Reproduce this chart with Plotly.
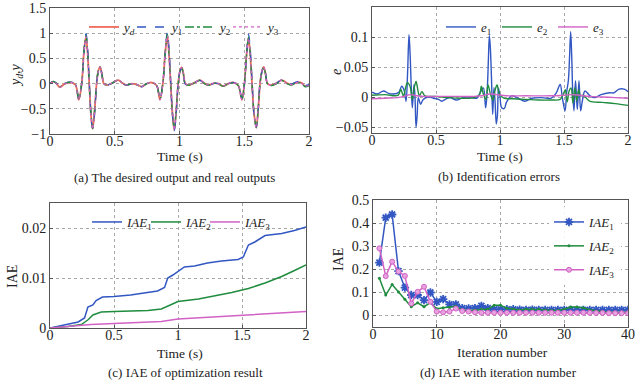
import plotly.graph_objects as go

# ---------------- (a) desired output and real outputs ----------------
t_a = [0.000, 0.025, 0.050, 0.075, 0.110, 0.140, 0.170, 0.198,
       0.222, 0.245, 0.262, 0.278, 0.290, 0.303, 0.316, 0.329, 0.345, 0.360, 0.373, 0.386, 0.400, 0.416,
       0.440, 0.480, 0.527, 0.560, 0.590, 0.630, 0.670, 0.707, 0.740, 0.770, 0.800, 0.826,
       0.849, 0.872, 0.890, 0.906, 0.918, 0.932, 0.946, 0.960, 0.975, 0.990, 1.004, 1.017, 1.030, 1.045,
       1.070, 1.110, 1.158, 1.190, 1.220, 1.270, 1.300, 1.335, 1.370, 1.400, 1.430, 1.456,
       1.482, 1.502, 1.518, 1.533, 1.546, 1.560, 1.575, 1.593, 1.608, 1.622, 1.637, 1.650, 1.664, 1.680,
       1.710, 1.750, 1.790, 1.830, 1.860, 1.890, 1.920, 1.945, 1.970, 2.000]
yd = [0.00, 0.04, 0.00, -0.07, -0.01, 0.02, 0.02, -0.03,
      -0.32, 0.00, 0.62, 0.93, 0.62, 0.00, -0.60, -0.90, -0.52, 0.00, 0.25, 0.33, 0.20, 0.00,
      -0.03, 0.01, 0.07, 0.01, -0.03, 0.00, -0.02, -0.06, -0.01, 0.02, 0.01, -0.05,
      -0.32, 0.02, 0.62, 0.95, 0.62, 0.00, -0.60, -0.92, -0.52, 0.00, 0.25, 0.32, 0.20, 0.00,
      -0.03, 0.01, 0.07, 0.01, -0.03, 0.01, 0.00, -0.05, -0.01, 0.02, 0.01, -0.05,
      -0.32, 0.02, 0.58, 0.90, 0.58, 0.00, -0.58, -0.88, -0.50, 0.00, 0.25, 0.33, 0.20, 0.00,
      -0.03, 0.01, 0.07, 0.01, -0.02, 0.01, 0.03, 0.01, -0.05, -0.03]
y1 = [0.01, 0.045, 0.005, -0.06, -0.003, 0.026, 0.025, -0.022,
      -0.30, 0.01, 0.61, 0.99, 0.72, 0.02, -0.62, -0.89, -0.57, 0.00, 0.24, 0.32, 0.196, 0.00,
      -0.03, 0.008, 0.066, 0.005, -0.033, -0.002, -0.025, -0.062, -0.01, 0.019, 0.008, -0.048,
      -0.31, 0.03, 0.61, 1.02, 0.72, 0.035, -0.63, -0.93, -0.565, 0.015, 0.25, 0.30, 0.18, -0.009,
      -0.03, 0.011, 0.064, 0.005, -0.033, 0.008, -0.001, -0.051, -0.011, 0.018, 0.015, -0.04,
      -0.30, 0.00, 0.59, 0.98, 0.68, 0.07, -0.60, -0.86, -0.52, 0.025, 0.24, 0.34, 0.21, 0.003,
      -0.03, 0.01, 0.074, 0.017, -0.013, 0.017, 0.043, 0.023, -0.037, -0.021]
y2 = [0.003, 0.044, 0.004, -0.066, -0.006, 0.024, 0.023, -0.027,
      -0.31, 0.01, 0.64, 0.95, 0.63, -0.004, -0.58, -0.89, -0.51, 0.002, 0.259, 0.332, 0.202, 0.001,
      -0.029, 0.011, 0.07, 0.009, -0.031, -0.001, -0.022, -0.062, -0.011, 0.02, 0.011, -0.046,
      -0.305, 0.015, 0.635, 0.97, 0.625, 0.005, -0.595, -0.90, -0.515, 0.005, 0.248, 0.316, 0.196, -0.003,
      -0.033, 0.007, 0.066, 0.006, -0.034, 0.005, -0.005, -0.055, -0.015, 0.015, 0.009, -0.046,
      -0.31, 0.03, 0.57, 0.92, 0.595, -0.01, -0.565, -0.87, -0.49, 0.006, 0.243, 0.32, 0.19, -0.007,
      -0.039, 0.001, 0.061, 0.001, -0.031, 0.001, 0.019, -0.001, -0.062, -0.044]
y3 = [-0.003, 0.037, -0.002, -0.072, -0.012, 0.019, 0.02, -0.031,
      -0.321, 0.002, 0.62, 0.935, 0.626, 0.004, -0.60, -0.90, -0.52, 0.001, 0.25, 0.33, 0.20, 0.001,
      -0.029, 0.011, 0.071, 0.011, -0.029, 0.001, -0.019, -0.059, -0.009, 0.021, 0.011, -0.048,
      -0.318, 0.022, 0.622, 0.952, 0.625, 0.005, -0.596, -0.918, -0.517, 0.003, 0.252, 0.322, 0.202, 0.002,
      -0.028, 0.012, 0.072, 0.012, -0.028, 0.012, 0.002, -0.048, -0.008, 0.022, 0.012, -0.047,
      -0.317, 0.023, 0.583, 0.902, 0.583, 0.004, -0.576, -0.877, -0.496, 0.003, 0.252, 0.331, 0.199, -0.001,
      -0.032, 0.009, 0.068, 0.008, -0.022, 0.008, 0.028, 0.008, -0.052, -0.032]

# ---------------- (b) identification errors ----------------
t_e1 = [0.00, 0.04, 0.09, 0.13, 0.17, 0.21, 0.232, 0.253, 0.266, 0.278, 0.289, 0.298, 0.306, 0.315,
        0.328, 0.336, 0.344, 0.353, 0.362, 0.380, 0.400, 0.440, 0.480, 0.520, 0.544, 0.580, 0.610,
        0.660, 0.700, 0.740, 0.780, 0.820, 0.844, 0.870, 0.888, 0.900, 0.909, 0.917, 0.925, 0.933,
        0.943, 0.953, 0.962, 0.971, 0.980, 0.988, 1.000, 1.013, 1.034, 1.050, 1.090, 1.140, 1.195,
        1.250, 1.326, 1.400, 1.440, 1.470, 1.487, 1.508, 1.522, 1.534, 1.544, 1.552, 1.560, 1.568,
        1.578, 1.590, 1.604, 1.617, 1.630, 1.643, 1.664, 1.703, 1.740, 1.790, 1.857, 1.890, 1.930,
        1.970, 2.000]
e1 = [0.008, 0.005, 0.010, 0.006, 0.005, 0.008, 0.018, 0.010, -0.007, 0.040, 0.104, 0.070, 0.020, -0.018,
      0.021, 0.000, -0.050, -0.030, -0.001, -0.012, -0.004, 0.000, -0.002, -0.004, -0.007, -0.003, -0.001,
      -0.005, -0.002, 0.000, -0.001, -0.002, 0.007, 0.015, -0.018, 0.010, 0.060, 0.102, 0.080, 0.035,
      -0.029, 0.016, -0.010, -0.045, -0.030, 0.015, 0.000, -0.018, -0.019, -0.009, 0.002, -0.002, -0.007,
      -0.002, -0.001, -0.002, 0.007, 0.021, -0.001, -0.023, 0.010, 0.027, 0.070, 0.109, 0.070, 0.010,
      -0.023, 0.027, -0.021, 0.027, -0.023, -0.007, 0.010, 0.002, -0.001, 0.004, 0.007, 0.007, 0.013,
      0.013, 0.009]
t_e2 = [0.00, 0.10, 0.205, 0.224, 0.245, 0.262, 0.276, 0.297, 0.315, 0.330, 0.344, 0.358, 0.370, 0.390,
        0.414, 0.50, 0.60, 0.70, 0.80, 0.840, 0.854, 0.870, 0.890, 0.906, 0.925, 0.945, 0.962, 0.977,
        0.995, 1.03, 1.10, 1.20, 1.30, 1.40, 1.47, 1.495, 1.51, 1.525, 1.540, 1.555, 1.570, 1.585,
        1.600, 1.615, 1.630, 1.650, 1.70, 1.80, 1.90, 2.00]
e2 = [0.003, 0.004, 0.003, 0.013, 0.002, 0.015, 0.024, 0.018, -0.004, 0.015, 0.026, 0.012, 0.002, 0.009,
      0.002, 0.001, -0.001, -0.002, -0.001, 0.004, 0.018, 0.005, -0.004, 0.020, 0.005, -0.005, 0.012, 0.020,
      0.005, -0.002, -0.003, -0.004, -0.005, -0.005, -0.004, 0.005, 0.012, -0.008, 0.010, 0.015, -0.010, 0.015,
      -0.006, 0.012, 0.002, 0.003, -0.007, -0.009, -0.011, -0.014]
t_e3 = [0.00, 0.10, 0.20, 0.25, 0.30, 0.35, 0.40, 0.50, 0.60, 0.70, 0.80, 0.86, 0.92, 0.97, 1.05, 1.20,
        1.40, 1.50, 1.56, 1.62, 1.70, 1.80, 1.90, 2.00]
e3 = [-0.003, -0.002, -0.001, 0.001, 0.004, 0.002, 0.001, 0.001, 0.001, 0.001, 0.001, 0.002, 0.005, 0.004,
      0.002, 0.002, 0.002, 0.003, 0.004, 0.003, 0.001, 0.000, -0.001, -0.002]

# ---------------- (c) IAE of optimization result ----------------
t_c1 = [0, 0.089, 0.14, 0.22, 0.27, 0.296, 0.335, 0.36, 0.41, 0.5, 0.63, 0.765, 0.84, 0.895, 0.92, 0.96,
        1.0, 1.05, 1.13, 1.23, 1.34, 1.47, 1.51, 1.55, 1.6, 1.68, 1.81, 1.91, 2.0]
iae1 = [0, 0.00046, 0.00086, 0.0012, 0.0020, 0.0042, 0.0046, 0.0055, 0.0062, 0.0063, 0.0066, 0.0071, 0.0074,
        0.0081, 0.0100, 0.0106, 0.0113, 0.0122, 0.0124, 0.0130, 0.0134, 0.0137, 0.0142, 0.0166, 0.0172,
        0.0185, 0.0189, 0.0195, 0.0202]
t_c2 = [0, 0.14, 0.245, 0.3, 0.335, 0.4, 0.5, 0.765, 0.87, 0.92, 0.96, 1.0, 1.16, 1.29, 1.42, 1.5, 1.55,
        1.68, 1.81, 1.91, 2.0]
iae2 = [0, 0.0003, 0.0007, 0.0017, 0.0026, 0.0032, 0.0033, 0.0035, 0.0038, 0.0044, 0.0048, 0.0053, 0.0058,
        0.0064, 0.0071, 0.0076, 0.0079, 0.0090, 0.0103, 0.0115, 0.0126]
t_c3 = [0, 0.245, 0.32, 0.5, 0.87, 1.0, 1.5, 1.81, 2.0]
iae3 = [0, 0.0005, 0.0007, 0.0009, 0.0013, 0.0018, 0.0026, 0.0031, 0.0033]

# ---------------- (d) IAE with iteration number ----------------
iters = list(range(1, 41))
iae1_it = [0.228, 0.423, 0.437, 0.191, 0.119, 0.087, 0.087, 0.065, 0.098, 0.057, 0.069, 0.046, 0.046, 0.030,
           0.029, 0.030, 0.040, 0.030, 0.025, 0.025, 0.025, 0.025, 0.023, 0.022, 0.023, 0.022, 0.022, 0.022,
           0.022, 0.022, 0.022, 0.022, 0.022, 0.022, 0.022, 0.022, 0.022, 0.022, 0.022, 0.022]
iae2_it = [0.160, 0.087, 0.133, 0.100, 0.069, 0.036, 0.053, 0.036, 0.054, 0.027, 0.032, 0.034, 0.038, 0.022,
           0.020, 0.022, 0.025, 0.025, 0.042, 0.042, 0.030, 0.025, 0.022, 0.025, 0.025, 0.025, 0.022, 0.020,
           0.020, 0.025, 0.035, 0.035, 0.032, 0.022, 0.018, 0.015, 0.012, 0.012, 0.012, 0.012]
iae3_it = [0.290, 0.169, 0.232, 0.189, 0.170, 0.050, 0.101, 0.123, 0.058, 0.015, 0.012, 0.015, 0.028, 0.017,
           0.015, 0.012, 0.010, 0.010, 0.010, 0.010, 0.010, 0.010, 0.010, 0.010, 0.010, 0.010, 0.010, 0.010,
           0.010, 0.010, 0.010, 0.010, 0.010, 0.010, 0.009, 0.009, 0.008, 0.008, 0.008, 0.008]

# ---------------- styling ----------------
W, H = 644, 383
FONT = "Liberation Serif"
RED = "#F06A5A"
BLUE = "#3257C2"
GREEN = "#1F8C3E"
PINK = "#D262C6"
GRID = "#A8A8A8"
AXC = "#555555"


def px_x(x):
    return x / W


def px_y(y):
    return 1 - y / H


fig = go.Figure()


def spacer(xa, ya, leg):
    # invisible legend entry that only widens a horizontal legend box so the last label is not clipped
    fig.add_trace(go.Scatter(x=[None], y=[None], mode="lines", name="", hoverinfo="skip",
                             line=dict(color="rgba(0,0,0,0)", width=0), xaxis=xa, yaxis=ya, legend=leg))


# (a)
fig.add_trace(go.Scatter(x=t_a, y=yd, mode="lines", name="<i>y</i><sub><i>d</i></sub>",
                         line=dict(color=RED, width=1.8, shape="spline"), xaxis="x", yaxis="y", legend="legend"))
fig.add_trace(go.Scatter(x=t_a, y=y1, mode="lines", name="<i>y</i><sub>1</sub>",
                         line=dict(color=BLUE, width=1.4, dash="dash", shape="spline"), xaxis="x", yaxis="y", legend="legend"))
fig.add_trace(go.Scatter(x=t_a, y=y2, mode="lines", name="<i>y</i><sub>2</sub>",
                         line=dict(color=GREEN, width=1.4, dash="dashdot", shape="spline"), xaxis="x", yaxis="y", legend="legend"))
fig.add_trace(go.Scatter(x=t_a, y=y3, mode="lines", name="<i>y</i><sub>3</sub>",
                         line=dict(color=PINK, width=1.2, dash="dot", shape="spline"), xaxis="x", yaxis="y", legend="legend"))
spacer("x", "y", "legend")

# (b)
fig.add_trace(go.Scatter(x=t_e1, y=e1, mode="lines", name="<i>e</i><sub>1</sub>",
                         line=dict(color=BLUE, width=1.4, shape="spline"), xaxis="x2", yaxis="y2", legend="legend2"))
fig.add_trace(go.Scatter(x=t_e2, y=e2, mode="lines", name="<i>e</i><sub>2</sub>",
                         line=dict(color=GREEN, width=1.4, shape="spline"), xaxis="x2", yaxis="y2", legend="legend2"))
fig.add_trace(go.Scatter(x=t_e3, y=e3, mode="lines", name="<i>e</i><sub>3</sub>",
                         line=dict(color=PINK, width=1.4, shape="spline"), xaxis="x2", yaxis="y2", legend="legend2"))

# (c)
fig.add_trace(go.Scatter(x=t_c1, y=iae1, mode="lines", name="<i>IAE</i><sub>1</sub>",
                         line=dict(color=BLUE, width=1.5), xaxis="x3", yaxis="y3", legend="legend3"))
fig.add_trace(go.Scatter(x=t_c2, y=iae2, mode="lines", name="<i>IAE</i><sub>2</sub>",
                         line=dict(color=GREEN, width=1.5), xaxis="x3", yaxis="y3", legend="legend3"))
fig.add_trace(go.Scatter(x=t_c3, y=iae3, mode="lines", name="<i>IAE</i><sub>3</sub>",
                         line=dict(color=PINK, width=1.5), xaxis="x3", yaxis="y3", legend="legend3"))
spacer("x3", "y3", "legend3")

# (d)
fig.add_trace(go.Scatter(x=iters, y=iae1_it, mode="lines+markers", name="<i>IAE</i><sub>1</sub>",
                         line=dict(color=BLUE, width=1.5), legendgroup="d1",
                         marker=dict(symbol="asterisk-open", size=7, line=dict(color=BLUE, width=1.8)),
                         xaxis="x4", yaxis="y4", legend="legend4"))
fig.add_trace(go.Scatter(x=iters, y=iae2_it, mode="lines+markers", name="<i>IAE</i><sub>2</sub>",
                         line=dict(color=GREEN, width=1.5), legendgroup="d2",
                         marker=dict(symbol="circle", size=3, color=GREEN),
                         xaxis="x4", yaxis="y4", legend="legend4"))
fig.add_trace(go.Scatter(x=iters, y=iae3_it, mode="lines+markers", name="<i>IAE</i><sub>3</sub>",
                         line=dict(color=PINK, width=1.5), legendgroup="d3",
                         marker=dict(symbol="circle", size=5, color="#E7A3DE", line=dict(color=PINK, width=1)),
                         xaxis="x4", yaxis="y4", legend="legend4"))

axis_common = dict(showline=True, linecolor=AXC, linewidth=1, mirror=True, ticks="inside", ticklen=3,
                   tickcolor=AXC, showgrid=True, gridcolor=GRID, griddash="dot", gridwidth=1,
                   zeroline=False, automargin=False,
                   tickfont=dict(family=FONT, size=14, color="#222222"))
xcommon = dict(ticklabelstandoff=-6, **axis_common)

fig.update_layout(
    width=W, height=H, margin=dict(l=0, r=0, t=0, b=0, autoexpand=False),
    paper_bgcolor="white", plot_bgcolor="white",
    font=dict(family=FONT, size=13, color="#222222"),
    # (a)
    xaxis=dict(domain=[px_x(50), px_x(309)], anchor="y", range=[0, 2], tickvals=[0, 0.5, 1, 1.5, 2],
               ticktext=["0", "0.5", "1", "1.5", "2"], **xcommon),
    yaxis=dict(domain=[px_y(134), px_y(8)], anchor="x", range=[-1, 1.5],
               tickvals=[-1, -0.5, 0, 0.5, 1, 1.5], ticktext=["\u22121", "\u22120.5", "0", "0.5", "1", "1.5"],
               **axis_common),
    # (b)
    xaxis2=dict(domain=[px_x(372), px_x(628)], anchor="y2", range=[0, 2], tickvals=[0, 0.5, 1, 1.5, 2],
                ticktext=["0", "0.5", "1", "1.5", "2"], **xcommon),
    yaxis2=dict(domain=[px_y(133), px_y(7)], anchor="x2", range=[-0.06, 0.15],
                tickvals=[-0.05, 0, 0.05, 0.1], ticktext=["\u22120.05", "0", "0.05", "0.1"], **axis_common),
    # (c)
    xaxis3=dict(domain=[px_x(50), px_x(306)], anchor="y3", range=[0, 2], tickvals=[0, 0.5, 1, 1.5, 2],
                ticktext=["0", "0.5", "1", "1.5", "2"], **xcommon),
    yaxis3=dict(domain=[px_y(328), px_y(203)], anchor="x3", range=[0, 0.025],
                tickvals=[0, 0.01, 0.02], ticktext=["0", "0.01", "0.02"], **axis_common),
    # (d)
    xaxis4=dict(domain=[px_x(373), px_x(628)], anchor="y4", range=[0, 40], tickvals=[0, 10, 20, 30, 40],
                **xcommon),
    yaxis4=dict(domain=[px_y(327), px_y(200)], anchor="x4", range=[-0.052, 0.5],
                tickvals=[0, 0.1, 0.2, 0.3, 0.4, 0.5], ticktext=["0", "0.1", "0.2", "0.3", "0.4", "0.5"],
                **axis_common),
    legend=dict(orientation="h", x=px_x(84), y=px_y(12), xanchor="left", yanchor="top",
                bgcolor="rgba(255,255,255,0)", font=dict(family=FONT, size=13),
                entrywidth=3, entrywidthmode="pixels", itemwidth=30, tracegroupgap=0),
    legend2=dict(orientation="h", x=px_x(441), y=px_y(12), xanchor="left", yanchor="top",
                 bgcolor="rgba(255,255,255,0)", font=dict(family=FONT, size=13),
                 entrywidth=11, entrywidthmode="pixels", itemwidth=30),
    legend3=dict(orientation="h", x=px_x(87), y=px_y(207), xanchor="left", yanchor="top",
                 bgcolor="rgba(255,255,255,0)", font=dict(family=FONT, size=13),
                 entrywidth=14, entrywidthmode="pixels", itemwidth=30),
    legend4=dict(orientation="v", x=px_x(549), y=px_y(207), xanchor="left", yanchor="top",
                 bgcolor="rgba(255,255,255,0.9)", font=dict(family=FONT, size=13), itemwidth=30,
                 tracegroupgap=4),
    showlegend=True,
)

ann = []


def txt(x, y, s, size=13.5, angle=0):
    ann.append(dict(x=px_x(x), y=px_y(y), xref="paper", yref="paper", text=s, showarrow=False,
                    xanchor="center", yanchor="middle", textangle=angle,
                    font=dict(family=FONT, size=size, color="#222222")))


txt(180, 157, "Time (s)")
txt(174, 177, "(a) The desired output and real outputs", size=13)
txt(500, 157, "Time (s)")
txt(499, 176, "(b) Identification errors", size=13)
txt(180, 353, "Time (s)")
txt(185, 372, "(c) IAE of optimization result", size=13)
txt(502, 352, "Iteration number")
txt(498, 372, "(d) IAE with iteration number", size=13)
txt(17, 75, "<i>y</i><sub><i>d</i></sub>,<i>y</i>", size=14, angle=-90)
txt(336, 72, "<i>e</i>", size=14, angle=-90)
txt(12, 277, "IAE", size=14, angle=-90)
txt(338, 260, "IAE", size=14, angle=-90)
fig.update_layout(annotations=ann)

fig.write_html("out.html", config={"displayModeBar": False},
               post_script="document.body.style.margin='0px';document.body.style.overflow='hidden';")
